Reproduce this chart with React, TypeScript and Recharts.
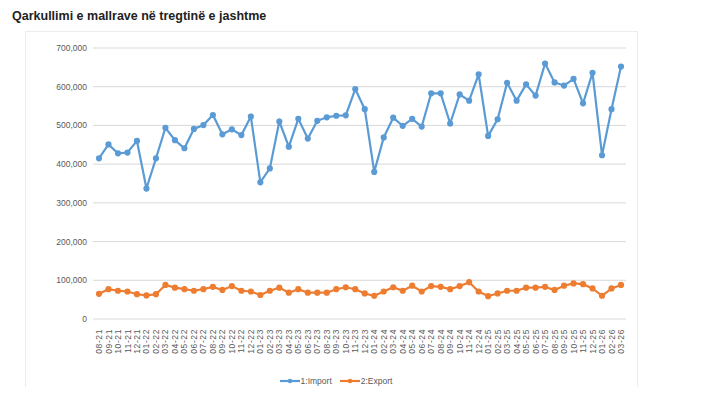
import { LineChart, Line, CartesianGrid, XAxis, YAxis, Legend } from "recharts"

const months = [
  "08-21", "09-21", "10-21", "11-21", "12-21",
  "01-22", "02-22", "03-22", "04-22", "05-22", "06-22", "07-22", "08-22", "09-22", "10-22", "11-22", "12-22",
  "01-23", "02-23", "03-23", "04-23", "05-23", "06-23", "07-23", "08-23", "09-23", "10-23", "11-23", "12-23",
  "01-24", "02-24", "03-24", "04-24", "05-24", "06-24", "07-24", "08-24", "09-24", "10-24", "11-24", "12-24",
  "01-25", "02-25", "03-25", "04-25", "05-25", "06-25", "07-25", "08-25", "09-25", "10-25", "11-25", "12-25",
  "01-26", "02-26", "03-26",
]

const imports = [
  415000, 451000, 428000, 430000, 460000,
  337000, 415000, 494000, 462000, 441000, 491000, 501000, 527000, 477000, 490000, 475000, 523000,
  353000, 389000, 510000, 445000, 517000, 466000, 512000, 521000, 525000, 526000, 594000, 542000,
  380000, 469000, 520000, 499000, 517000, 497000, 583000, 583000, 505000, 580000, 564000, 632000,
  473000, 516000, 610000, 564000, 606000, 577000, 660000, 611000, 603000, 620000, 557000, 636000,
  423000, 542000, 652000,
]

const exports = [
  65000, 77000, 73000, 71000, 64000,
  61000, 64000, 88000, 81000, 77000, 73000, 77000, 83000, 75000, 85000, 73000, 71000,
  62000, 73000, 81000, 68000, 77000, 68000, 68000, 68000, 77000, 82000, 77000, 66000,
  60000, 71000, 82000, 73000, 86000, 71000, 85000, 83000, 77000, 85000, 95000, 71000,
  59000, 66000, 73000, 73000, 81000, 81000, 83000, 75000, 86000, 92000, 90000, 79000,
  60000, 79000, 88000,
]

const yTicks = [0, 100000, 200000, 300000, 400000, 500000, 600000, 700000]

const data = months.map((m, i) => ({ name: m, "1:Import": imports[i], "2:Export": exports[i] }))

const axisFont = "'Liberation Sans Narrow', 'Liberation Sans', Arial, sans-serif"

// excel style legend: short line with a dot in the middle
function ExcelLegend(props: any) {
  const items = props.payload || []
  return (
    <div style={{ display: "flex", justifyContent: "center", gap: 8, paddingLeft: 20, fontSize: 8.5, fontFamily: axisFont, color: "#595959" }}>
      {items.map((it: any) => (
        <div key={it.value} style={{ display: "flex", alignItems: "center", gap: 1 }}>
          <svg width={20} height={8}>
            <line x1={0} y1={4} x2={20} y2={4} stroke={it.color} strokeWidth={2.2} />
            <circle cx={10} cy={4} r={2.3} fill={it.color} />
          </svg>
          <span>{it.value}</span>
        </div>
      ))}
    </div>
  )
}

export default function App() {
  return (
    <div style={{ position: "relative", width: 718, height: 395, margin: -8, background: "#fff", fontFamily: "'Liberation Sans', Arial, sans-serif" }}>
      <div style={{ position: "absolute", left: 12, top: 9, fontSize: 12.5, fontWeight: "bold", color: "#222" }}>
        Qarkullimi e mallrave në tregtinë e jashtme
      </div>
      <div style={{ position: "absolute", left: 25, top: 31, width: 611, height: 355, border: "1px solid #ececec" }}>
        <LineChart width={611} height={355} data={data} margin={{ top: 16, right: 11, left: 0, bottom: 0 }}>
          <CartesianGrid vertical={false} stroke="#d9d9d9" />
          <XAxis
            dataKey="name"
            interval={0}
            angle={-90}
            textAnchor="end"
            height={57}
            axisLine={false}
            tickLine={false}
            padding={{ left: 6, right: 5 }}
            tick={{ fontSize: 8.5, fill: "#595959", fontFamily: axisFont, dx: -3, letterSpacing: 0.6 }}
            tickMargin={4}
          />
          <YAxis
            width={67}
            domain={[0, 700000]}
            ticks={yTicks}
            axisLine={false}
            tickLine={false}
            tickMargin={0}
            tickFormatter={(v: number) => v.toLocaleString("en-US")}
            tick={{ fontSize: 8.5, fill: "#595959", fontFamily: axisFont }}
          />
          <Legend verticalAlign="bottom" height={11} content={<ExcelLegend />} />
          <Line type="linear" dataKey="1:Import" stroke="#5B9BD5" strokeWidth={2.2} dot={{ r: 2, fill: "#5B9BD5", stroke: "#5B9BD5" }} isAnimationActive={false} />
          <Line type="linear" dataKey="2:Export" stroke="#ED7D31" strokeWidth={2.2} dot={{ r: 2, fill: "#ED7D31", stroke: "#ED7D31" }} isAnimationActive={false} />
        </LineChart>
      </div>
    </div>
  )
}
